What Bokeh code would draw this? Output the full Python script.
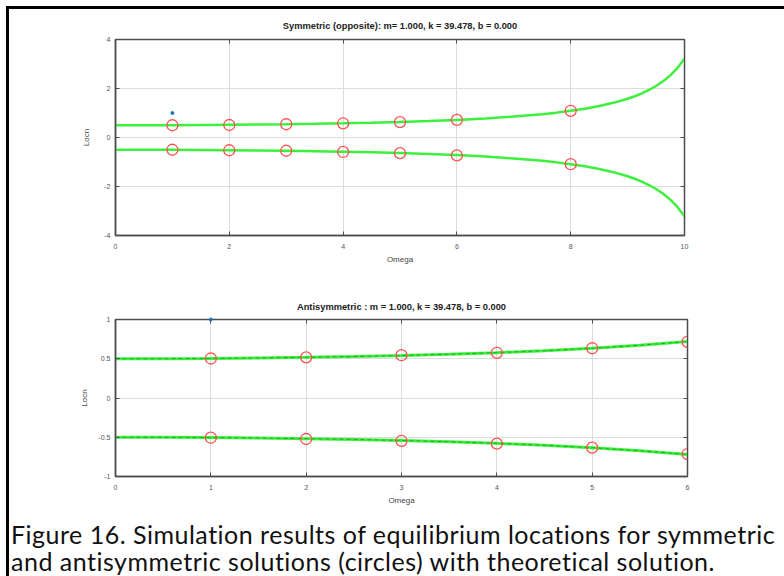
from bokeh.plotting import figure
from bokeh.models import LinearAxis, FixedTicker, Range1d, Div
from bokeh.layouts import column
from bokeh.embed import file_html
from bokeh.resources import INLINE

# ---------------- data ----------------
title_sym = "Symmetric (opposite): m= 1.000, k = 39.478, b = 0.000"
title_anti = "Antisymmetric : m = 1.000, k = 39.478, b = 0.000"
x_label = "Omega"
y_label = "Locn"

# theoretical curve
curve_omega = [0, 0.5, 1, 1.5, 2, 2.5, 3, 3.5, 4, 4.5, 5, 5.5, 6, 6.5, 7, 7.5,
               7.75, 8, 8.25, 8.5, 8.75, 9, 9.125, 9.25, 9.375, 9.5, 9.625,
               9.75, 9.875, 10]
curve_upper = [0.500, 0.501, 0.504, 0.510, 0.518, 0.528, 0.541, 0.558, 0.578,
               0.603, 0.634, 0.672, 0.719, 0.777, 0.853, 0.953, 1.015, 1.088,
               1.176, 1.283, 1.415, 1.583, 1.685, 1.803, 1.940, 2.103, 2.298,
               2.537, 2.834, 3.218]
curve_lower = [-v for v in curve_upper]

# symmetric simulation (circles)
sym_omega = [1, 2, 3, 4, 5, 6, 8]
sym_upper = [0.50, 0.51, 0.54, 0.58, 0.63, 0.72, 1.09]
sym_lower = [-0.50, -0.52, -0.54, -0.59, -0.64, -0.73, -1.09]

# antisymmetric simulation (circles)
anti_omega = [1, 2, 3, 4, 5, 6]
anti_upper = [0.503, 0.518, 0.545, 0.576, 0.634, 0.716]
anti_lower = [-0.506, -0.522, -0.545, -0.582, -0.633, -0.714]

# stray blue point
blue_omega = [1]
blue_locn = [1]

sym_xticks = [0, 2, 4, 6, 8, 10]
sym_yticks = [-4, -2, 0, 2, 4]
anti_xticks = [0, 1, 2, 3, 4, 5, 6]
anti_yticks = [-1, -0.5, 0, 0.5, 1]
anti_ylabels = {-1: "-1", -0.5: "-0.5", 0: "0", 0.5: "0.5", 1: "1"}

caption1 = "Figure 16. Simulation results of equilibrium locations for symmetric"
caption2 = "and antisymmetric solutions (circles) with theoretical solution."

# ---------------- styling helpers ----------------
FRAME = "#4d4d4d"
TICKTXT = "#555555"
GREEN = "#3cf03c"
RED = "#ff5050"
BLUE = "#1f6fc0"
FONT = "Liberation Sans"


def style(p, xticks, yticks, ylabels=None, ylabel_standoff=10, title_standoff=10):
    p.xaxis.ticker = FixedTicker(ticks=xticks)
    p.yaxis.ticker = FixedTicker(ticks=yticks)
    p.xgrid.ticker = FixedTicker(ticks=xticks)
    p.ygrid.ticker = FixedTicker(ticks=yticks)
    p.xaxis.major_label_overrides = {t: str(t) for t in xticks}
    if ylabels is None:
        ylabels = {t: str(t) for t in yticks}
    p.yaxis.major_label_overrides = ylabels
    p.grid.grid_line_color = "#dcdcdc"
    p.grid.grid_line_width = 1
    p.outline_line_color = FRAME
    p.outline_line_width = 1.5
    for ax in (p.xaxis[0], p.yaxis[0]):
        ax.axis_line_color = FRAME
        ax.axis_line_width = 1.5
        ax.major_tick_in = 4
        ax.major_tick_out = 0
        ax.major_tick_line_color = FRAME
        ax.minor_tick_line_color = None
        ax.major_label_text_font = FONT
        ax.major_label_text_font_size = "7px"
        ax.major_label_text_color = TICKTXT
        ax.axis_label_text_font = FONT
        ax.axis_label_text_font_size = "8px"
        ax.axis_label_text_color = "#444444"
        ax.axis_label_text_font_style = "normal"
    p.xaxis.major_label_standoff = 8
    p.xaxis.axis_label_standoff = 3
    p.yaxis.major_label_standoff = 5
    p.yaxis.axis_label_standoff = ylabel_standoff
    p.xaxis.axis_label = x_label
    p.yaxis.axis_label = y_label
    # inward ticks on top and right (no labels drawn)
    common = dict(major_label_text_color=None, major_label_text_font_size="1px",
                  major_tick_in=4, major_tick_out=0, minor_tick_line_color=None,
                  axis_line_color=FRAME, major_tick_line_color=FRAME,
                  major_label_standoff=0)
    p.add_layout(LinearAxis(ticker=FixedTicker(ticks=xticks), **common), "above")
    p.add_layout(LinearAxis(ticker=FixedTicker(ticks=yticks), **common), "right")
    p.title.text_font = FONT
    p.title.text_font_size = "9.3px"
    p.title.text_font_style = "bold"
    p.title.text_color = "#222222"
    p.title.align = "center"
    p.title.standoff = title_standoff


# ---------------- top plot ----------------
p1 = figure(width=775, height=271, output_backend="svg", toolbar_location=None,
            x_range=Range1d(0, 10), y_range=Range1d(-4, 4),
            min_border_left=106, min_border_right=100, min_border_top=30,
            min_border_bottom=45, frame_width=569, frame_height=196,
            title=title_sym)
style(p1, sym_xticks, sym_yticks, title_standoff=18)
p1.line(curve_omega, curve_upper, line_color=GREEN, line_width=2.5)
p1.line(curve_omega, curve_lower, line_color=GREEN, line_width=2.5)
p1.scatter(sym_omega, sym_upper, marker="circle", size=11, fill_color=None,
           line_color=RED, line_width=1.3)
p1.scatter(sym_omega, sym_lower, marker="circle", size=11, fill_color=None,
           line_color=RED, line_width=1.3)
p1.scatter(blue_omega, blue_locn, marker="circle", size=3, fill_color=BLUE,
           line_color=BLUE)

# ---------------- bottom plot ----------------
n6 = curve_omega.index(6) + 1
p2 = figure(width=775, height=230, output_backend="svg", toolbar_location=None,
            x_range=Range1d(0, 6), y_range=Range1d(-1, 1),
            min_border_left=105, min_border_right=98, min_border_top=39,
            min_border_bottom=34, frame_width=572, frame_height=157,
            title=title_anti)
style(p2, anti_xticks, anti_yticks, anti_ylabels, ylabel_standoff=6, title_standoff=16)
for ys in (curve_upper[:n6], curve_lower[:n6]):
    p2.line(curve_omega[:n6], ys, line_color=GREEN, line_width=3)
    p2.line(curve_omega[:n6], ys, line_color="#1f9a1f", line_width=1,
            line_dash="4 3", line_alpha=0.8)
p2.scatter(anti_omega, anti_upper, marker="circle", size=11, fill_color=None,
           line_color=RED, line_width=1.3)
p2.scatter(anti_omega, anti_lower, marker="circle", size=11, fill_color=None,
           line_color=RED, line_width=1.3)
p2.scatter(blue_omega, blue_locn, marker="circle", size=3, fill_color=BLUE,
           line_color=BLUE, level="overlay")

# ---------------- caption ----------------
cap = Div(text=caption1 + "<br>" + caption2, width=775, height=66, margin=0,
          styles={"font-family": "Lato", "font-size": "25px", "line-height": "27px",
                  "letter-spacing": "0.5px",
                  "color": "#111111", "padding-left": "2px", "padding-top": "11px",
                  "white-space": "nowrap", "box-sizing": "border-box"})

layout = column(p1, p2, cap, spacing=0, margin=(6, 0, 0, 6),
                styles={"border-top": "3px solid black", "border-left": "3px solid black"})

open("out.html", "w").write(file_html(layout, INLINE))
